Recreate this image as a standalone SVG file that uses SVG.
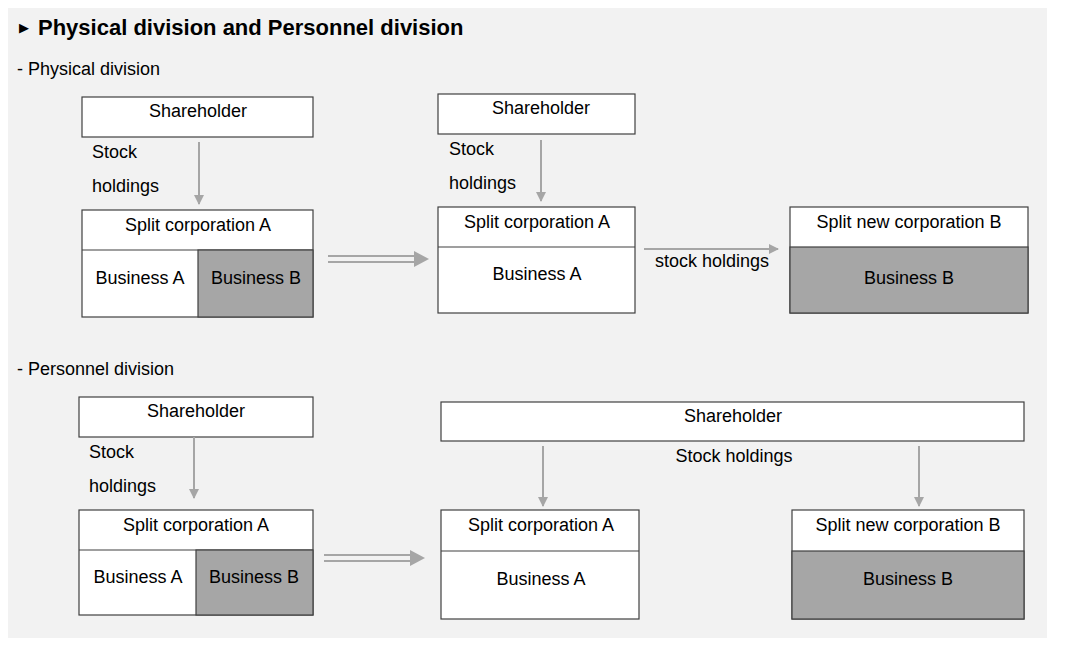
<svg xmlns="http://www.w3.org/2000/svg" width="1065" height="655" viewBox="0 0 1065 655">
<defs>
<style>
text{font-family:"Liberation Sans",Arial,sans-serif;fill:#000;font-size:18px}
.c{text-anchor:middle}
.box{fill:#fff;stroke:#404040;stroke-width:1.2}
.gr{fill:#a6a6a6;stroke:#404040;stroke-width:1.2}
.ln{stroke:#a6a6a6;stroke-width:2;fill:none}
.hd{fill:#a6a6a6}
</style>
<marker id="ah" markerWidth="10" markerHeight="10" refX="9" refY="5" orient="auto" markerUnits="userSpaceOnUse" viewBox="0 0 10 10">
<path d="M0,0 L10,5 L0,10 Z" fill="#a6a6a6"/>
</marker>
</defs>
<rect x="8" y="8" width="1039" height="630" fill="#f2f2f2"/>
<text x="19" y="32" style="font-size:13px">▶</text>
<text x="38" y="35" style="font-size:22px;font-weight:bold">Physical division and Personnel division</text>
<text x="17" y="75">- Physical division</text>
<text x="17" y="375">- Personnel division</text>

<g id="p-sh1"><rect class="box" x="82" y="97" width="231" height="40"/><text class="c" x="198" y="117">Shareholder</text></g>
<g id="p-corpA1"><rect class="box" x="82" y="210" width="231" height="107"/><line x1="82" y1="250" x2="313" y2="250" stroke="#404040" stroke-width="1.2"/><rect class="gr" x="198" y="250" width="115" height="67"/><text class="c" x="198" y="231">Split corporation A</text><text class="c" x="140" y="284">Business A</text><text class="c" x="256" y="284">Business B</text></g>
<g id="p-sh2"><rect class="box" x="438" y="94" width="197" height="40"/><text class="c" x="541" y="114">Shareholder</text></g>
<g id="p-corpA2"><rect class="box" x="438" y="207" width="197" height="106"/><line x1="438" y1="247" x2="635" y2="247" stroke="#404040" stroke-width="1.2"/><text class="c" x="537" y="228">Split corporation A</text><text class="c" x="537" y="280">Business A</text></g>
<g id="p-corpB"><rect class="box" x="790" y="207" width="238" height="106"/><rect class="gr" x="790" y="247" width="238" height="66"/><text class="c" x="909" y="228">Split new corporation B</text><text class="c" x="909" y="284">Business B</text></g>

<g id="q-sh1"><rect class="box" x="79" y="397" width="234" height="40"/><text class="c" x="196" y="417">Shareholder</text></g>
<g id="q-corpA1"><rect class="box" x="79" y="510" width="234" height="105"/><line x1="79" y1="550" x2="313" y2="550" stroke="#404040" stroke-width="1.2"/><rect class="gr" x="196" y="550" width="117" height="65"/><text class="c" x="196" y="531">Split corporation A</text><text class="c" x="138" y="583">Business A</text><text class="c" x="254" y="583">Business B</text></g>
<g id="q-sh2"><rect class="box" x="441" y="402" width="583" height="39"/><text class="c" x="733" y="422">Shareholder</text></g>
<g id="q-corpA2"><rect class="box" x="441" y="510" width="198" height="109"/><line x1="441" y1="551" x2="639" y2="551" stroke="#404040" stroke-width="1.2"/><text class="c" x="541" y="531">Split corporation A</text><text class="c" x="541" y="585">Business A</text></g>
<g id="q-corpB"><rect class="box" x="792" y="510" width="232" height="109"/><rect class="gr" x="792" y="551" width="232" height="68"/><text class="c" x="908" y="531">Split new corporation B</text><text class="c" x="908" y="585">Business B</text></g>

<g id="connectors">
<line class="ln" x1="199" y1="142" x2="199" y2="204" marker-end="url(#ah)"/>
<text x="92" y="158">Stock</text><text x="92" y="192">holdings</text>
<line class="ln" x1="328" y1="256" x2="416" y2="256"/><line class="ln" x1="328" y1="262" x2="416" y2="262"/>
<path class="hd" d="M414,251 L429,259 L414,267 Z"/>
<line class="ln" x1="541" y1="140" x2="541" y2="201" marker-end="url(#ah)"/>
<text x="449" y="155">Stock</text><text x="449" y="189">holdings</text>
<line class="ln" x1="644" y1="249" x2="778" y2="249" marker-end="url(#ah)"/>
<text x="655" y="267">stock holdings</text>

<line class="ln" x1="194" y1="437" x2="194" y2="498" marker-end="url(#ah)"/>
<text x="89" y="458">Stock</text><text x="89" y="492">holdings</text>
<line class="ln" x1="324" y1="555" x2="412" y2="555"/><line class="ln" x1="324" y1="561" x2="412" y2="561"/>
<path class="hd" d="M410,550 L425,558 L410,566 Z"/>
<line class="ln" x1="543" y1="446" x2="543" y2="506" marker-end="url(#ah)"/>
<line class="ln" x1="919" y1="446" x2="919" y2="506" marker-end="url(#ah)"/>
<text class="c" x="734" y="462">Stock holdings</text>
</g>
</svg>
